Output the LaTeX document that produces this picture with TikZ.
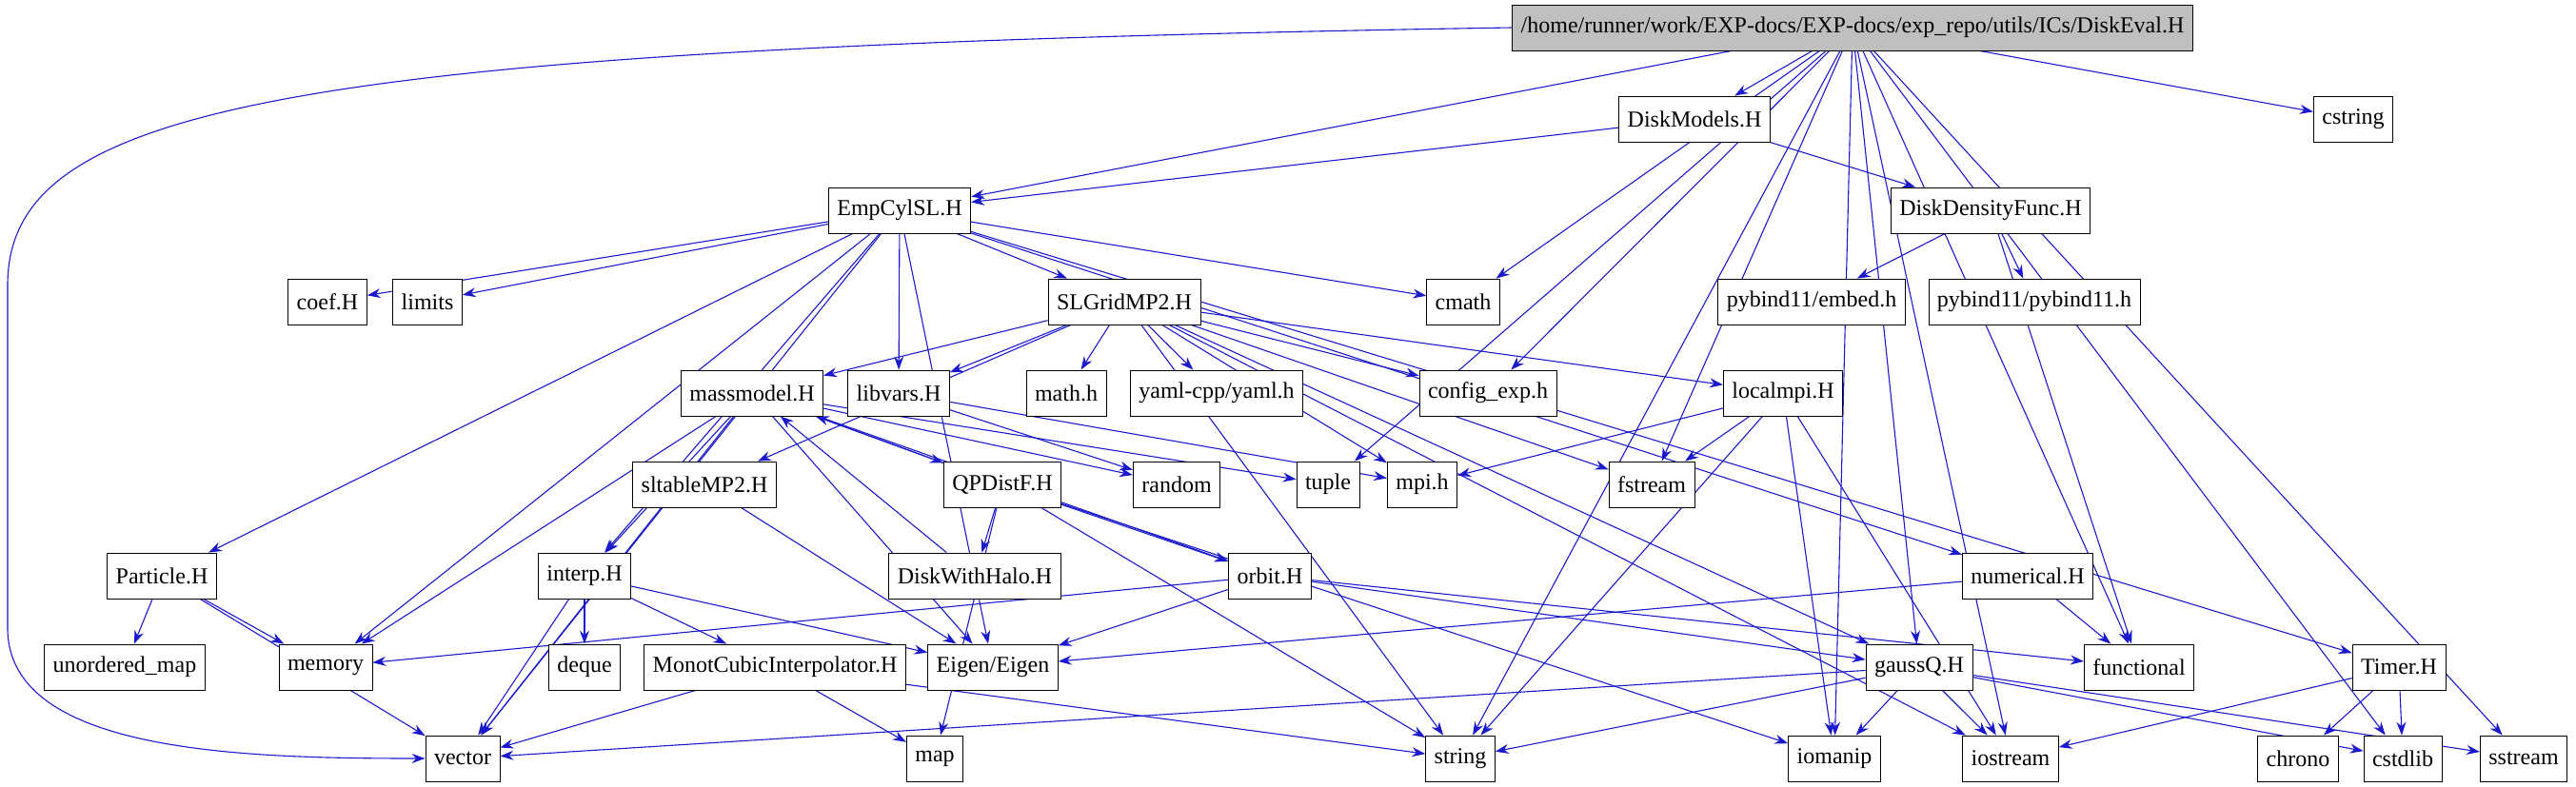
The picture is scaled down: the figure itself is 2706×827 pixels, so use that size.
\documentclass[tikz,border=0pt]{standalone}
\usepackage{fontspec}
\setmainfont{Liberation Serif}
\usetikzlibrary{arrows.meta}
\definecolor{edgeblue}{RGB}{26,26,204}
\pgfdeclarelayer{background}
\pgfsetlayers{background,main}
\tikzset{
    file/.style={draw, thick, fill=white, minimum height=48pt, inner xsep=9pt, font=\fontsize{24}{26}\selectfont},
    inc/.style={-{Stealth[length=14pt,width=10pt]}, edgeblue, line width=1.1pt}
}
\begin{document}
\begin{tikzpicture}[x=1pt, y=-1pt]
            \useasboundingbox (0,0) rectangle (2706,827);

            \node[file, fill=gray!50] (root) at (1946, 29) {/home/runner/work/EXP-docs/EXP-docs/exp\_repo/utils/ICs/DiskEval.H};

            \node[file] (dmod) at (1780, 125) {DiskModels.H};
            \node[file] (cstring) at (2472, 125) {cstring};

            \node[file] (emp) at (945, 221) {EmpCylSL.H};
            \node[file] (ddf) at (2091, 221) {DiskDensityFunc.H};

            \node[file] (coef) at (344, 317) {coef.H};
            \node[file] (limits) at (449, 317) {limits};
            \node[file] (slg) at (1181, 317) {SLGridMP2.H};
            \node[file] (cmath) at (1537, 317) {cmath};
            \node[file] (embed) at (1903, 317) {pybind11/embed.h};
            \node[file] (pyb) at (2137, 317) {pybind11/pybind11.h};

            \node[file] (mass) at (790, 413) {massmodel.H};
            \node[file] (libv) at (944, 413) {libvars.H};
            \node[file] (math) at (1120, 413) {math.h};
            \node[file] (yaml) at (1278, 413) {yaml-cpp/yaml.h};
            \node[file] (conf) at (1563, 413) {config\_exp.h};
            \node[file] (lmpi) at (1873, 413) {localmpi.H};

            \node[file] (slt) at (740, 509) {sltableMP2.H};
            \node[file] (qpd) at (1053, 509) {QPDistF.H};
            \node[file] (random) at (1236, 509) {random};
            \node[file] (tuple) at (1395, 509) {tuple};
            \node[file] (mpi) at (1494, 509) {mpi.h};
            \node[file] (fstream) at (1735, 509) {fstream};

            \node[file] (part) at (170, 605) {Particle.H};
            \node[file] (interp) at (614, 605) {interp.H};
            \node[file] (dwh) at (1024, 605) {DiskWithHalo.H};
            \node[file] (orbit) at (1334, 605) {orbit.H};
            \node[file] (num) at (2130, 605) {numerical.H};

            \node[file] (umap) at (131, 701) {unordered\_map};
            \node[file] (memory) at (342, 701) {memory};
            \node[file] (deque) at (614, 701) {deque};
            \node[file] (mci) at (814, 701) {MonotCubicInterpolator.H};
            \node[file] (eigen) at (1043, 701) {Eigen/Eigen};
            \node[file] (gauss) at (2016, 701) {gaussQ.H};
            \node[file] (func) at (2247, 701) {functional};
            \node[file] (timer) at (2520, 701) {Timer.H};

            \node[file] (vector) at (486, 797) {vector};
            \node[file] (map) at (982, 797) {map};
            \node[file] (string) at (1534, 797) {string};
            \node[file] (iomanip) at (1927, 797) {iomanip};
            \node[file] (iostream) at (2112, 797) {iostream};
            \node[file] (chrono) at (2414, 797) {chrono};
            \node[file] (cstdlib) at (2524, 797) {cstdlib};
            \node[file] (sstream) at (2651, 797) {sstream};

            \begin{pgfonlayer}{background}
            % the long way round, left of everything
            \draw[inc] (root.west) .. controls (300, 50) and (8, 110) .. (8, 300)
                       -- (8, 660) .. controls (8, 790) and (250, 797) .. (vector.west);
            \foreach \a/\b in {root/emp, root/dmod, root/cmath, root/conf, root/tuple,
                               root/string, root/fstream, root/gauss, root/func, root/iomanip,
                               root/iostream, root/cstring, root/cstdlib, root/sstream,
                               dmod/emp, dmod/ddf, ddf/embed, ddf/pyb, ddf/func,
                               emp/coef, emp/limits, emp/cmath, emp/slg, emp/libv, emp/part,
                               emp/memory, emp/vector, emp/interp, emp/eigen, emp/num, emp/timer,
                               slg/mass, slg/libv, slg/math, slg/yaml, slg/conf, slg/lmpi,
                               slg/mpi, slg/fstream, slg/slt, slg/string, slg/iostream, slg/gauss,
                               mass/memory, mass/vector, mass/interp, mass/eigen, mass/qpd,
                               mass/random, mass/tuple, mass/orbit,
                               qpd/mass, qpd/dwh, qpd/orbit, qpd/map, qpd/string, qpd/iomanip,
                               dwh/mass, libv/mpi, libv/random,
                               lmpi/mpi, lmpi/fstream, lmpi/string, lmpi/iomanip, lmpi/iostream,
                               slt/eigen, interp/deque, interp/vector, interp/mci, interp/eigen,
                               mci/vector, mci/map, mci/string,
                               orbit/memory, orbit/eigen, orbit/gauss, orbit/func,
                               num/eigen, num/func,
                               gauss/vector, gauss/string, gauss/iomanip, gauss/iostream,
                               gauss/cstdlib, gauss/sstream,
                               timer/chrono, timer/cstdlib, timer/iostream,
                               part/umap, part/memory, part/vector}{
                \draw[inc] (\a) to (\b);
            }
            \end{pgfonlayer}
\end{tikzpicture}
\end{document}
